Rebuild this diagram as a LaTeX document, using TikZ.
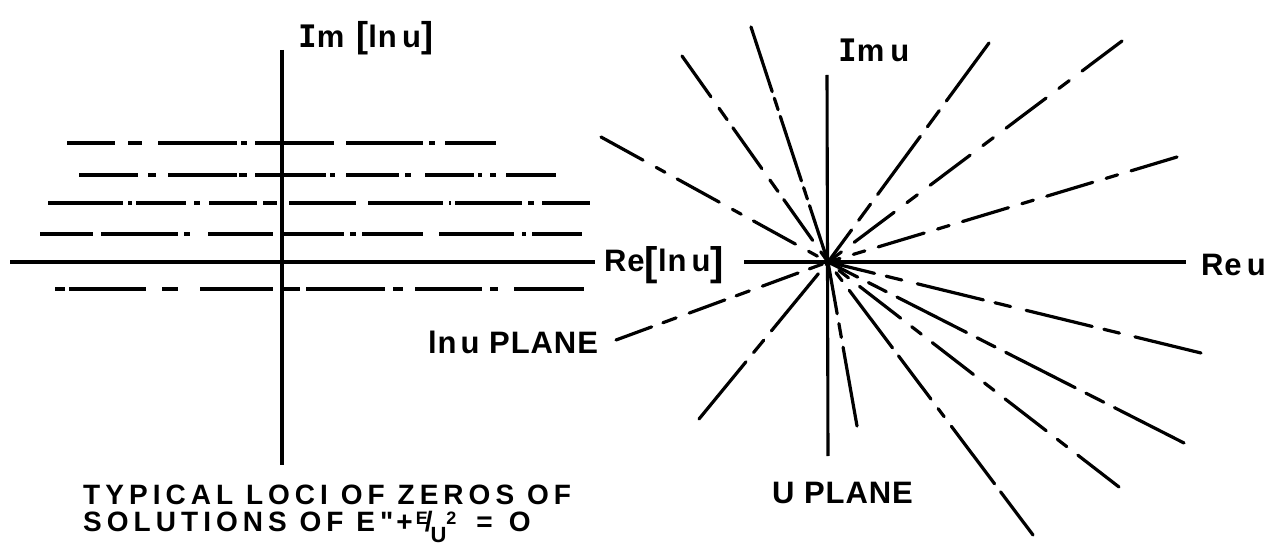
\documentclass[tikz,border=0pt]{standalone}
\usepackage{fontspec}
\setmainfont{Liberation Sans}
\newfontfamily\lab{Liberation Sans}[LetterSpace=3]
\newfontfamily\capf{Liberation Sans}[LetterSpace=18]
\newfontfamily\labI{DejaVu Sans Mono}
\begin{document}
\begin{tikzpicture}[x=1pt,y=-1pt,
  ln/.style={line width=3.1pt,line cap=butt},
  ray/.style={line width=3.2pt,line cap=round},
  lbl/.style={inner sep=0pt,anchor=base west,font=\lab\bfseries\fontsize{31}{31}\selectfont},
  captxt/.style={inner sep=0pt,anchor=base west,align=left,font=\capf\bfseries\fontsize{28}{28}\selectfont}]
\useasboundingbox (0,0) rectangle (1269,553);
% ---------------- left panel: ln u plane ----------------
\coordinate (lxa) at (10,262);  \coordinate (lxb) at (595,262);
\coordinate (lya) at (282,50);  \coordinate (lyb) at (282,465);
\draw[ln] (lxa) -- (lxb);
\draw[ln] (lya) -- (lyb);
\coordinate (a1) at (67,143);  \coordinate (b1) at (496,143);
\coordinate (a2) at (79,175);  \coordinate (b2) at (556,175);
\coordinate (a3) at (48,203);  \coordinate (b3) at (590,203);
\coordinate (a4) at (40,234);  \coordinate (b4) at (582,234);
\coordinate (a5) at (55,289);  \coordinate (b5) at (584,289);
\draw[ln,dash pattern=on 48pt off 13pt on 14pt off 16pt on 79pt off 4pt on 6pt off 8pt on 79pt off 12pt on 77pt off 6pt on 6pt off 10pt on 60pt] (a1) -- (b1);
\draw[ln,dash pattern=on 59pt off 10pt on 8pt off 12pt on 69pt off 2pt on 8pt off 8pt on 71pt off 4pt on 5pt off 11pt on 53pt off 6pt on 6pt off 14pt on 49pt off 4pt on 4pt off 8pt on 6pt off 10pt on 60pt] (a2) -- (b2);
\draw[ln,dash pattern=on 75pt off 5pt on 4pt off 4pt on 50pt off 8pt on 6pt off 9pt on 48pt off 6pt on 14pt off 12pt on 67pt off 12pt on 75pt off 6pt on 2pt off 4pt on 67pt off 6pt on 6pt off 8pt on 60pt] (a3) -- (b3);
\draw[ln,dash pattern=on 53pt off 8pt on 77pt off 6pt on 6pt off 18pt on 65pt off 8pt on 63pt off 6pt on 6pt off 6pt on 61pt off 16pt on 75pt off 8pt on 4pt off 6pt on 60pt] (a4) -- (b4);
\draw[ln,dash pattern=on 10pt off 4pt on 77pt off 16pt on 16pt off 22pt on 73pt off 10pt on 17pt off 6pt on 79pt off 8pt on 10pt off 12pt on 67pt off 8pt on 8pt off 16pt on 80pt] (a5) -- (b5);
\node[lbl] (imln) at (298,48) {{\labI\bfseries I}m\hspace{12pt}{\fontsize{36}{36}\selectfont[}ln\,u{\fontsize{36}{36}\selectfont]}};
\node[lbl] (reln) at (604,272) {Re\raisebox{-4pt}{\fontsize{40}{40}\selectfont[}ln\,u\raisebox{-4pt}{\fontsize{40}{40}\selectfont]}};
\node[lbl] (lnpl) at (428,353) {ln\hspace{4pt}u PLANE};
% ---------------- right panel: u plane ----------------
\coordinate (O) at (828,262);
\coordinate (rxa) at (744,262); \coordinate (rxb) at (1186,262);
\coordinate (rya) at (827,75);  \coordinate (ryb) at (828,456);
\draw[ln] (rxa) -- (rxb);
\draw[ln] (rya) -- (ryb);
\coordinate (u1) at (601,137);
\coordinate (u2) at (682,56);
\coordinate (u3) at (751,27);
\coordinate (u4) at (989,43);
\coordinate (u5) at (1122,41);
\coordinate (u6) at (1177,157);
\coordinate (l1) at (1201,353);
\coordinate (l2) at (1184,443);
\coordinate (l3) at (1119,487);
\coordinate (l4) at (1033,535);
\coordinate (l5) at (857,426);
\coordinate (l6) at (699,419);
\coordinate (l7) at (616,340);
\draw[ray,dash pattern=on 48pt off 15pt on 10pt off 14pt] (u1) -- (O);
\draw[ray,dash pattern=on 50pt off 14pt on 14pt off 10pt] (u2) -- (O);
\draw[ray,dash pattern=on 68pt off 7pt on 12pt off 7pt] (u3) -- (O);
\draw[ray,dash pattern=on 72pt off 12pt on 20pt off 12pt] (u4) -- (O);
\draw[ray,dash pattern=on 50pt off 16pt on 13pt off 16pt] (u5) -- (O);
\draw[ray,dash pattern=on 48pt off 14pt on 12pt off 14pt] (u6) -- (O);
\draw[ray,dash pattern=on 68pt off 16pt on 16pt off 12pt] (l1) -- (O);
\draw[ray,dash pattern=on 78pt off 12pt on 20pt off 12pt] (l2) -- (O);
\draw[ray,dash pattern=on 52pt off 14pt on 12pt off 14pt] (l3) -- (O);
\draw[ray,dash pattern=on 54pt off 10pt on 72pt off 12pt on 10pt off 12pt] (l4) -- (O);
\draw[ray,dash pattern=on 80pt off 10pt on 14pt off 10pt] (l5) -- (O);
\draw[ray,dash pattern=on 74pt off 12pt on 16pt off 12pt] (l6) -- (O);
\draw[ray,dash pattern=on 38pt off 12pt on 14pt off 14pt] (l7) -- (O);
\node[lbl] (imu) at (838,62) {{\labI\bfseries I}m\hspace{6pt}u};
\node[lbl] (reu) at (1201,276) {Re\hspace{5pt}u};
\node[lbl] (upl) at (772,503) {U PLANE};
% ---------------- caption ----------------
\node[captxt] (cap) at (83,531) {TYPICAL LOCI OF ZEROS OF\\[-1pt]
SOLUTIONS OF E"\hspace{3pt}+\hspace{3pt}\raisebox{7pt}{\fontsize{18}{18}\selectfont E}\kern-3pt/\kern-2pt\raisebox{-11pt}{\fontsize{22}{22}\selectfont U}\raisebox{7pt}{\fontsize{18}{18}\selectfont 2}\hspace{20pt}=\hspace{16pt}O};
\end{tikzpicture}
\end{document}
